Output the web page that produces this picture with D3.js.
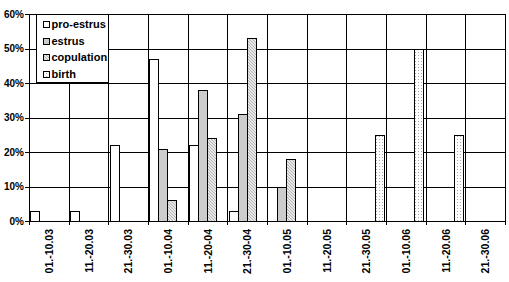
<!DOCTYPE html>
<html><head><meta charset="utf-8">
<script src="https://cdn.jsdelivr.net/npm/d3@7"></script>
<style>body{margin:0;background:#fff}svg{display:block}text{font-family:"Liberation Sans",Arial,sans-serif;font-weight:bold}</style>
</head><body><svg id="c" width="509" height="282"></svg>
<script>
const categories = ["01.-10.03","11.-20.03","21.-30.03","01.-10.04","11.-20-04","21.-30-04","01.-10.05","11.-20.05","21.-30.05","01.-10.06","11.-20.06","21.-30.06"];
const seriesNames = ["pro-estrus","estrus","copulation","birth"];
const proEstrus = [3,3,22,47,22,3,0,0,0,0,0,0];
const estrus = [0,0,0,21,38,31,10,0,0,0,0,0];
const copulation = [0,0,0,6,24,53,18,0,0,0,0,0];
const birth = [0,0,0,0,0,0,0,0,25,50,25,0];
const yTicks = [0,10,20,30,40,50,60];

const series = [proEstrus, estrus, copulation, birth];
const fills = ["#ffffff","#cccccc","url(#hatch)","url(#dots)"];

const svg = d3.select("#c");
const defs = svg.append("defs");
const h = defs.append("pattern").attr("id","hatch").attr("patternUnits","userSpaceOnUse").attr("width",3).attr("height",3);
h.append("rect").attr("width",3).attr("height",3).attr("fill","#fff");
h.append("path").attr("d","M-1,-1 L4,4 M-1,2 L1,4 M2,-1 L4,1").attr("stroke","#b0b0b0").attr("stroke-width",1.1);
const d = defs.append("pattern").attr("id","dots").attr("patternUnits","userSpaceOnUse").attr("width",3).attr("height",3);
d.append("rect").attr("width",3).attr("height",3).attr("fill","#fff");
d.append("rect").attr("x",1).attr("y",1).attr("width",1).attr("height",1).attr("fill","#a8a8a8");

const L = 29, R = 505, T = 14, B = 221;
const x = d3.scaleBand().domain(categories).range([L,R]);
const y = d3.scaleLinear().domain([0,60]).range([B,T]);
const bw = x.bandwidth()*0.228;
const off = x.bandwidth()*0.03;
const px = v => Math.round(v)+0.5;

const g = svg.append("g").attr("shape-rendering","crispEdges");
// horizontal grid
g.selectAll("line.h").data(yTicks).join("line")
 .attr("x1",L-4).attr("x2",R+1).attr("y1",d=>px(y(d))).attr("y2",d=>px(y(d)))
 .attr("stroke","#000").attr("stroke-width",1);
// vertical grid
const bounds = categories.map(c=>x(c)).concat([R]);
g.selectAll("line.v").data(bounds).join("line")
 .attr("x1",d=>px(d)).attr("x2",d=>px(d)).attr("y1",T).attr("y2",B+4)
 .attr("stroke","#000").attr("stroke-width",1);

// bars
series.forEach((s,si)=>{
  g.append("g").selectAll("rect").data(s.map((v,i)=>({v,c:categories[i]})).filter(d=>d.v>0)).join("rect")
   .attr("x",d=>px(x(d.c)+off+si*bw)).attr("width",d=>Math.round(x(d.c)+off+(si+1)*bw)-Math.round(x(d.c)+off+si*bw))
   .attr("y",d=>px(y(d.v))).attr("height",d=>Math.round(B)-Math.round(y(d.v)))
   .attr("fill",fills[si]).attr("stroke","#000").attr("stroke-width",1);
});

// y labels
svg.append("g").selectAll("text").data(yTicks).join("text")
 .attr("x",L-5).attr("y",d=>y(d)+3.5).attr("text-anchor","end").attr("font-size",10)
 .text(d=>d+"%");

// x labels
svg.append("g").selectAll("text").data(categories).join("text")
 .attr("transform",c=>`translate(${x(c)+x.bandwidth()/2+4},229) rotate(-90)`)
 .attr("text-anchor","end").attr("font-size",10.5).text(c=>c);

// legend
const lg = svg.append("g");
lg.append("rect").attr("x",36.5).attr("y",14.5).attr("width",72).attr("height",68).attr("fill","#fff").attr("stroke","#000").attr("stroke-width",1).attr("shape-rendering","crispEdges");
seriesNames.forEach((n,i)=>{
  const cy = 24 + i*16.7;
  lg.append("rect").attr("x",Math.round(43)+0.5).attr("y",Math.round(cy-3)+0.5).attr("width",6).attr("height",6).attr("fill",fills[i]).attr("stroke","#000").attr("stroke-width",1).attr("shape-rendering","crispEdges");
  lg.append("text").attr("x",51.5).attr("y",cy+4).attr("font-size",11).text(n);
});
</script></body></html>
